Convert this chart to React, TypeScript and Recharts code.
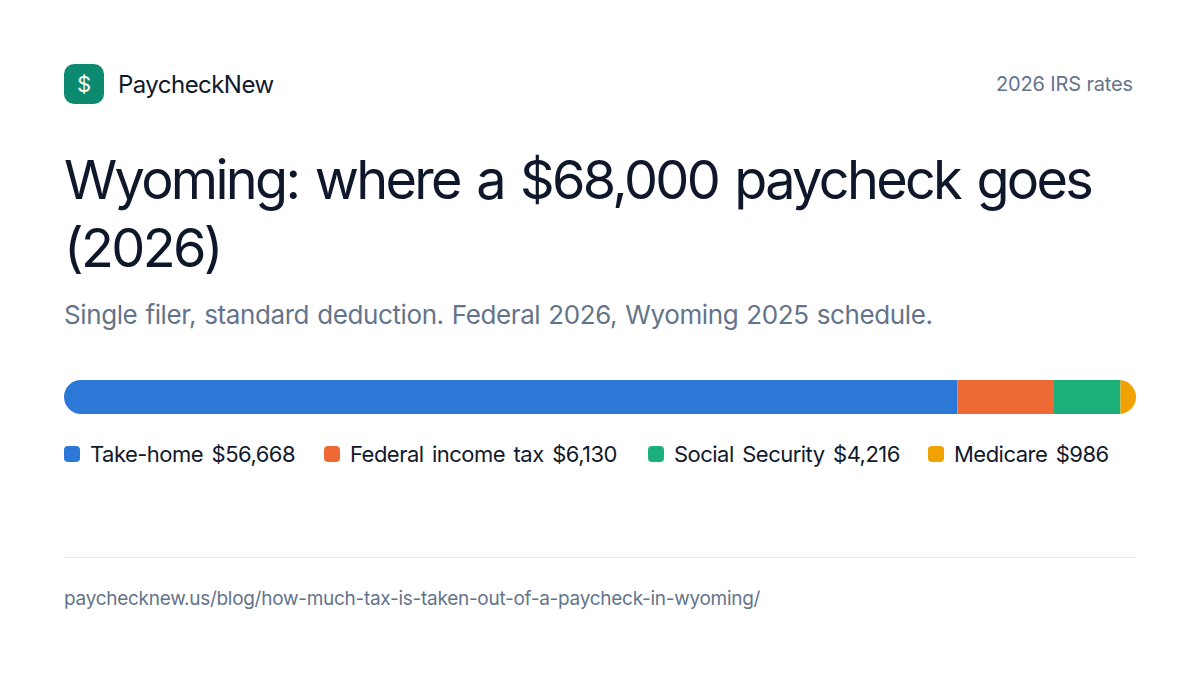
import { BarChart, Bar, XAxis, YAxis } from 'recharts';

const labels = ['Take-home', 'Federal income tax', 'Social Security', 'Medicare'];
const amounts = [56668, 6130, 4216, 986];
const colors = ['#2b78d6', '#ee6a35', '#1bb07a', '#f0a202'];
const total = 68000;

const row: Record<string, string | number> = { name: 'paycheck' };
labels.forEach((l, i) => { row[l] = amounts[i]; });
const data = [row];

const font = 'Inter, sans-serif';
const legendLefts = [64, 324, 648, 928];

const abs = (left: number, top: number, extra = {}) => ({ position: 'absolute' as const, left, top, whiteSpace: 'nowrap' as const, ...extra });

export default function App() {
    return (
        <div style={{ position: 'absolute', left: 0, top: 0, width: 1200, height: 675, background: '#fff', fontFamily: font, overflow: 'hidden' }}>
            <div style={abs(64, 64, { width: 40, height: 40, borderRadius: 10, background: '#0b8a6f', color: '#fff', fontSize: 22, lineHeight: '40px', textAlign: 'center' })}>$</div>
            <div style={abs(118, 70, { fontSize: 24, lineHeight: '30px', color: '#111a2c', letterSpacing: -0.55 })}>PaycheckNew</div>
            <div style={abs(996, 71, { fontSize: 20, lineHeight: '26px', color: '#64748b', letterSpacing: -0.15 })}>2026 IRS rates</div>

            <div style={abs(64, 146, { fontSize: 54, lineHeight: '68px', color: '#0f172a', letterSpacing: -2.68, wordSpacing: 3.8 })}>
                Wyoming: where a $68,000 paycheck goes<br />(2026)
            </div>
            <div style={abs(64, 299, { fontSize: 26, lineHeight: '32px', color: '#64748b', letterSpacing: -0.4, wordSpacing: 1.2 })}>
                Single filer, standard deduction. Federal 2026, Wyoming 2025 schedule.
            </div>

            <div style={abs(64, 380, { width: 1072, height: 34, borderRadius: 17, overflow: 'hidden' })}>
                <BarChart width={1072} height={34} data={data} layout="vertical" stackOffset="none" barCategoryGap={0} margin={{ top: 0, right: 0, bottom: 0, left: 0 }}>
                    <XAxis type="number" hide domain={[0, total]} />
                    <YAxis type="category" dataKey="name" hide />
                    {labels.map((l, i) => (
                        <Bar key={l} dataKey={l} stackId="a" fill={colors[i]} isAnimationActive={false} />
                    ))}
                </BarChart>
            </div>

            {labels.map((l, i) => (
                <div key={l}>
                    <div style={abs(legendLefts[i], 446, { width: 16, height: 16, borderRadius: 4, background: colors[i] })} />
                    <div style={abs(legendLefts[i] + 26, 440, { fontSize: 22, lineHeight: '28px', color: '#111a2c', letterSpacing: -0.52, wordSpacing: 2.8 })}>
                        {l} ${amounts[i].toLocaleString('en-US')}
                    </div>
                </div>
            ))}

            <div style={abs(64, 557, { width: 1072, height: 1, background: '#e2e8f0' })} />
            <div style={abs(64, 587, { fontSize: 19, lineHeight: '24px', color: '#64748b', letterSpacing: -0.28 })}>
                paychecknew.us/blog/how-much-tax-is-taken-out-of-a-paycheck-in-wyoming/
            </div>
        </div>
    );
}
